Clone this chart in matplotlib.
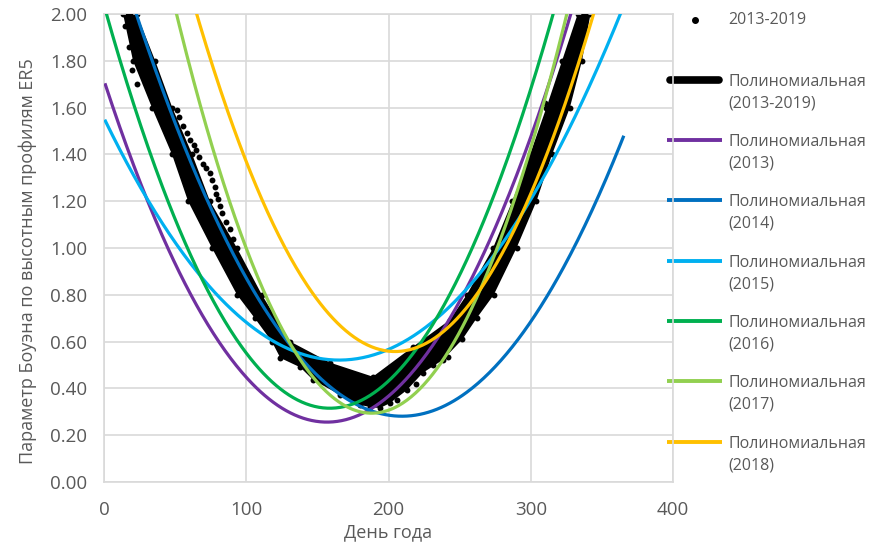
import numpy as np
import matplotlib.pyplot as plt

plt.rcParams['font.family'] = ['Open Sans', 'DejaVu Sans']

GRAY = '#595959'
GRID = '#D9D9D9'

# 2013-2019 points: edges of the dense cloud (day, value)
band_top_days = [23, 36, 48, 62, 74.5, 93.5, 111, 131, 159, 189, 217, 243,
                 255, 273.5, 287, 299.5, 311, 322, 333]
band_top_vals = [2.0, 1.8, 1.6, 1.4, 1.2, 1.0, 0.8, 0.6, 0.51, 0.45, 0.577, 0.692,
                 0.8, 1.0, 1.2, 1.4, 1.6, 1.8, 2.0]
band_low_days = [13.4, 20.4, 33.7, 47.8, 59.1, 75.9, 93.5, 106, 118, 124, 138, 147,
                 166, 180, 187, 194, 201, 213, 224, 238, 252, 262, 274, 290,
                 304, 315, 327.5, 336, 342]
band_low_vals = [2.0, 1.8, 1.6, 1.4, 1.2, 1.0, 0.8, 0.7, 0.6, 0.53, 0.49, 0.436,
                 0.372, 0.33, 0.32, 0.316, 0.337, 0.393, 0.466, 0.521, 0.61, 0.7, 0.8, 1.0,
                 1.2, 1.4, 1.6, 1.8, 2.0]
# separate points lying off the dense band
stray_days = [15, 17.5, 20, 23,
              51.3, 53, 55.5, 58, 60.5, 63, 65, 67, 69.6, 72, 74.5, 76, 78, 79,
              80, 81.5, 83, 86, 88.6, 91,
              206, 219, 231, 242, 310]
stray_vals = [1.95, 1.86, 1.76, 1.70,
              1.59, 1.56, 1.52, 1.49, 1.46, 1.44, 1.42, 1.39, 1.36, 1.34, 1.32, 1.29, 1.26, 1.23,
              1.21, 1.18, 1.15, 1.11, 1.08, 1.04,
              0.35, 0.42, 0.50, 0.535, 1.62]

# points (day, value)
trend_all_days = [18, 28, 41, 55, 67, 85, 102, 125, 150, 175, 195, 220, 245, 265,
                  281, 296, 307, 319, 329, 338]
trend_all_vals = [2.0, 1.8, 1.6, 1.4, 1.2, 1.0, 0.8, 0.6, 0.48, 0.415, 0.40, 0.51,
                  0.62, 0.8, 1.0, 1.2, 1.4, 1.6, 1.8, 2.0]

years = ['2013', '2014', '2015', '2016', '2017', '2018']
colors = ['#7030A0', '#0070C0', '#00B0F0', '#00B050', '#92D050', '#FFC000']
curve_days = {
    '2013': [0, 32, 53, 100, 157, 171, 229, 269, 328],
    '2014': [22, 64, 109.7, 166, 210, 222, 271, 285, 348.7, 365],
    '2015': [0, 32.3, 67.5, 102.6, 130.8, 166, 201, 222, 269, 299.5, 336.7, 362.7],
    '2016': [1, 45, 53.4, 100.5, 158, 222, 297, 315.6],
    '2017': [51.3, 83, 130.8, 166, 189, 271, 325.5],
    '2018': [65.4, 104.7, 166, 206, 325.5, 343.8],
}
curve_vals = {
    '2013': [1.72, 1.175, 0.9, 0.44, 0.25, 0.278, 0.578, 0.99, 2.0],
    '2014': [2.0, 1.33, 0.79, 0.38, 0.27, 0.278, 0.466, 0.564, 1.235, 1.48],
    '2015': [1.56, 1.18, 0.876, 0.68, 0.577, 0.517, 0.573, 0.637, 0.92, 1.205, 1.63, 2.0],
    '2016': [2.0, 1.205, 1.09, 0.55, 0.32, 0.564, 1.63, 2.0],
    '2017': [2.0, 1.29, 0.578, 0.35, 0.295, 0.92, 2.0],
    '2018': [2.0, 1.29, 0.664, 0.568, 1.63, 2.0],
}

days = np.arange(1, 366)

fig = plt.figure(figsize=(8.81, 5.43), dpi=100)
ax = fig.add_axes([0.11805, 0.11234, 0.64586, 0.86188])

# dense cloud of points
ax.fill(np.r_[band_top_days, band_low_days[::-1]],
        np.r_[band_top_vals, band_low_vals[::-1]],
        color='black', lw=0, zorder=2)
ax.scatter(band_top_days + band_low_days + stray_days,
           band_top_vals + band_low_vals + stray_vals,
           s=18, color='black', lw=0, zorder=2)

# polynomial trendlines
coef = np.polyfit(trend_all_days, trend_all_vals, 4)
ax.plot(days, np.polyval(coef, days), color='black', lw=5, zorder=3)
for yr, c in zip(years, colors):
    coef = np.polyfit(curve_days[yr], curve_vals[yr], 2)
    ax.plot(days, np.polyval(coef, days), color=c, lw=2.3, zorder=4)

ax.set_xlim(0, 400)
ax.set_ylim(0, 2)
ax.set_xticks(range(0, 401, 100))
ax.set_yticks(np.arange(0, 2.01, 0.2))
ax.set_yticklabels([f'{v:.2f}' for v in np.arange(0, 2.01, 0.2)])
ax.grid(True, color=GRID, lw=1.2, zorder=0)
ax.set_axisbelow(True)
for s in ax.spines.values():
    s.set_color(GRID)
    s.set_linewidth(1.2)
ax.tick_params(length=0, colors=GRAY, labelsize=13.5)
ax.tick_params(axis='x', pad=14)
ax.tick_params(axis='y', pad=12)

ax.set_xlabel('День года', color=GRAY, fontsize=13)
ax.set_ylabel('Параметр Боуэна по высотным профилям ER5', color=GRAY, fontsize=13)
ax.xaxis.set_label_coords(0.499, -0.088)
ax.yaxis.set_label_coords(-0.117, 0.472)

# legend, drawn entry by entry like in the spreadsheet
def ya(py):
    return (482 - py) / 468

entry_py = [20, 80, 140, 200, 261, 321, 381, 442]
x0, x1, xt = 0.9895, 1.0861, 1.0967
ax.plot([(x0 + x1) / 2], [ya(entry_py[0])], 'o', ms=4, color='black',
        transform=ax.transAxes, clip_on=False)
ax.text(xt, ya(entry_py[0]), '2013-2019', color=GRAY, fontsize=11.5,
        va='center', transform=ax.transAxes)
names = ['2013-2019'] + years
line_colors = ['black'] + colors
for i, (nm, c) in enumerate(zip(names, line_colors)):
    py = entry_py[i + 1]
    if i == 0:
        ax.plot([x0 + 0.005, x1 - 0.005], [ya(py), ya(py)], color=c, lw=5.5,
                solid_capstyle='round', transform=ax.transAxes, clip_on=False)
    else:
        ax.plot([x0, x1], [ya(py), ya(py)], color=c, lw=2.8,
                solid_capstyle='butt', transform=ax.transAxes, clip_on=False)
    ax.text(xt, ya(py + 2), 'Полиномиальная', color=GRAY, fontsize=11.5,
            va='center', transform=ax.transAxes)
    ax.text(xt, ya(py + 24), f'({nm})', color=GRAY, fontsize=11.5,
            va='center', transform=ax.transAxes)

fig.savefig('out.png', dpi=100)
